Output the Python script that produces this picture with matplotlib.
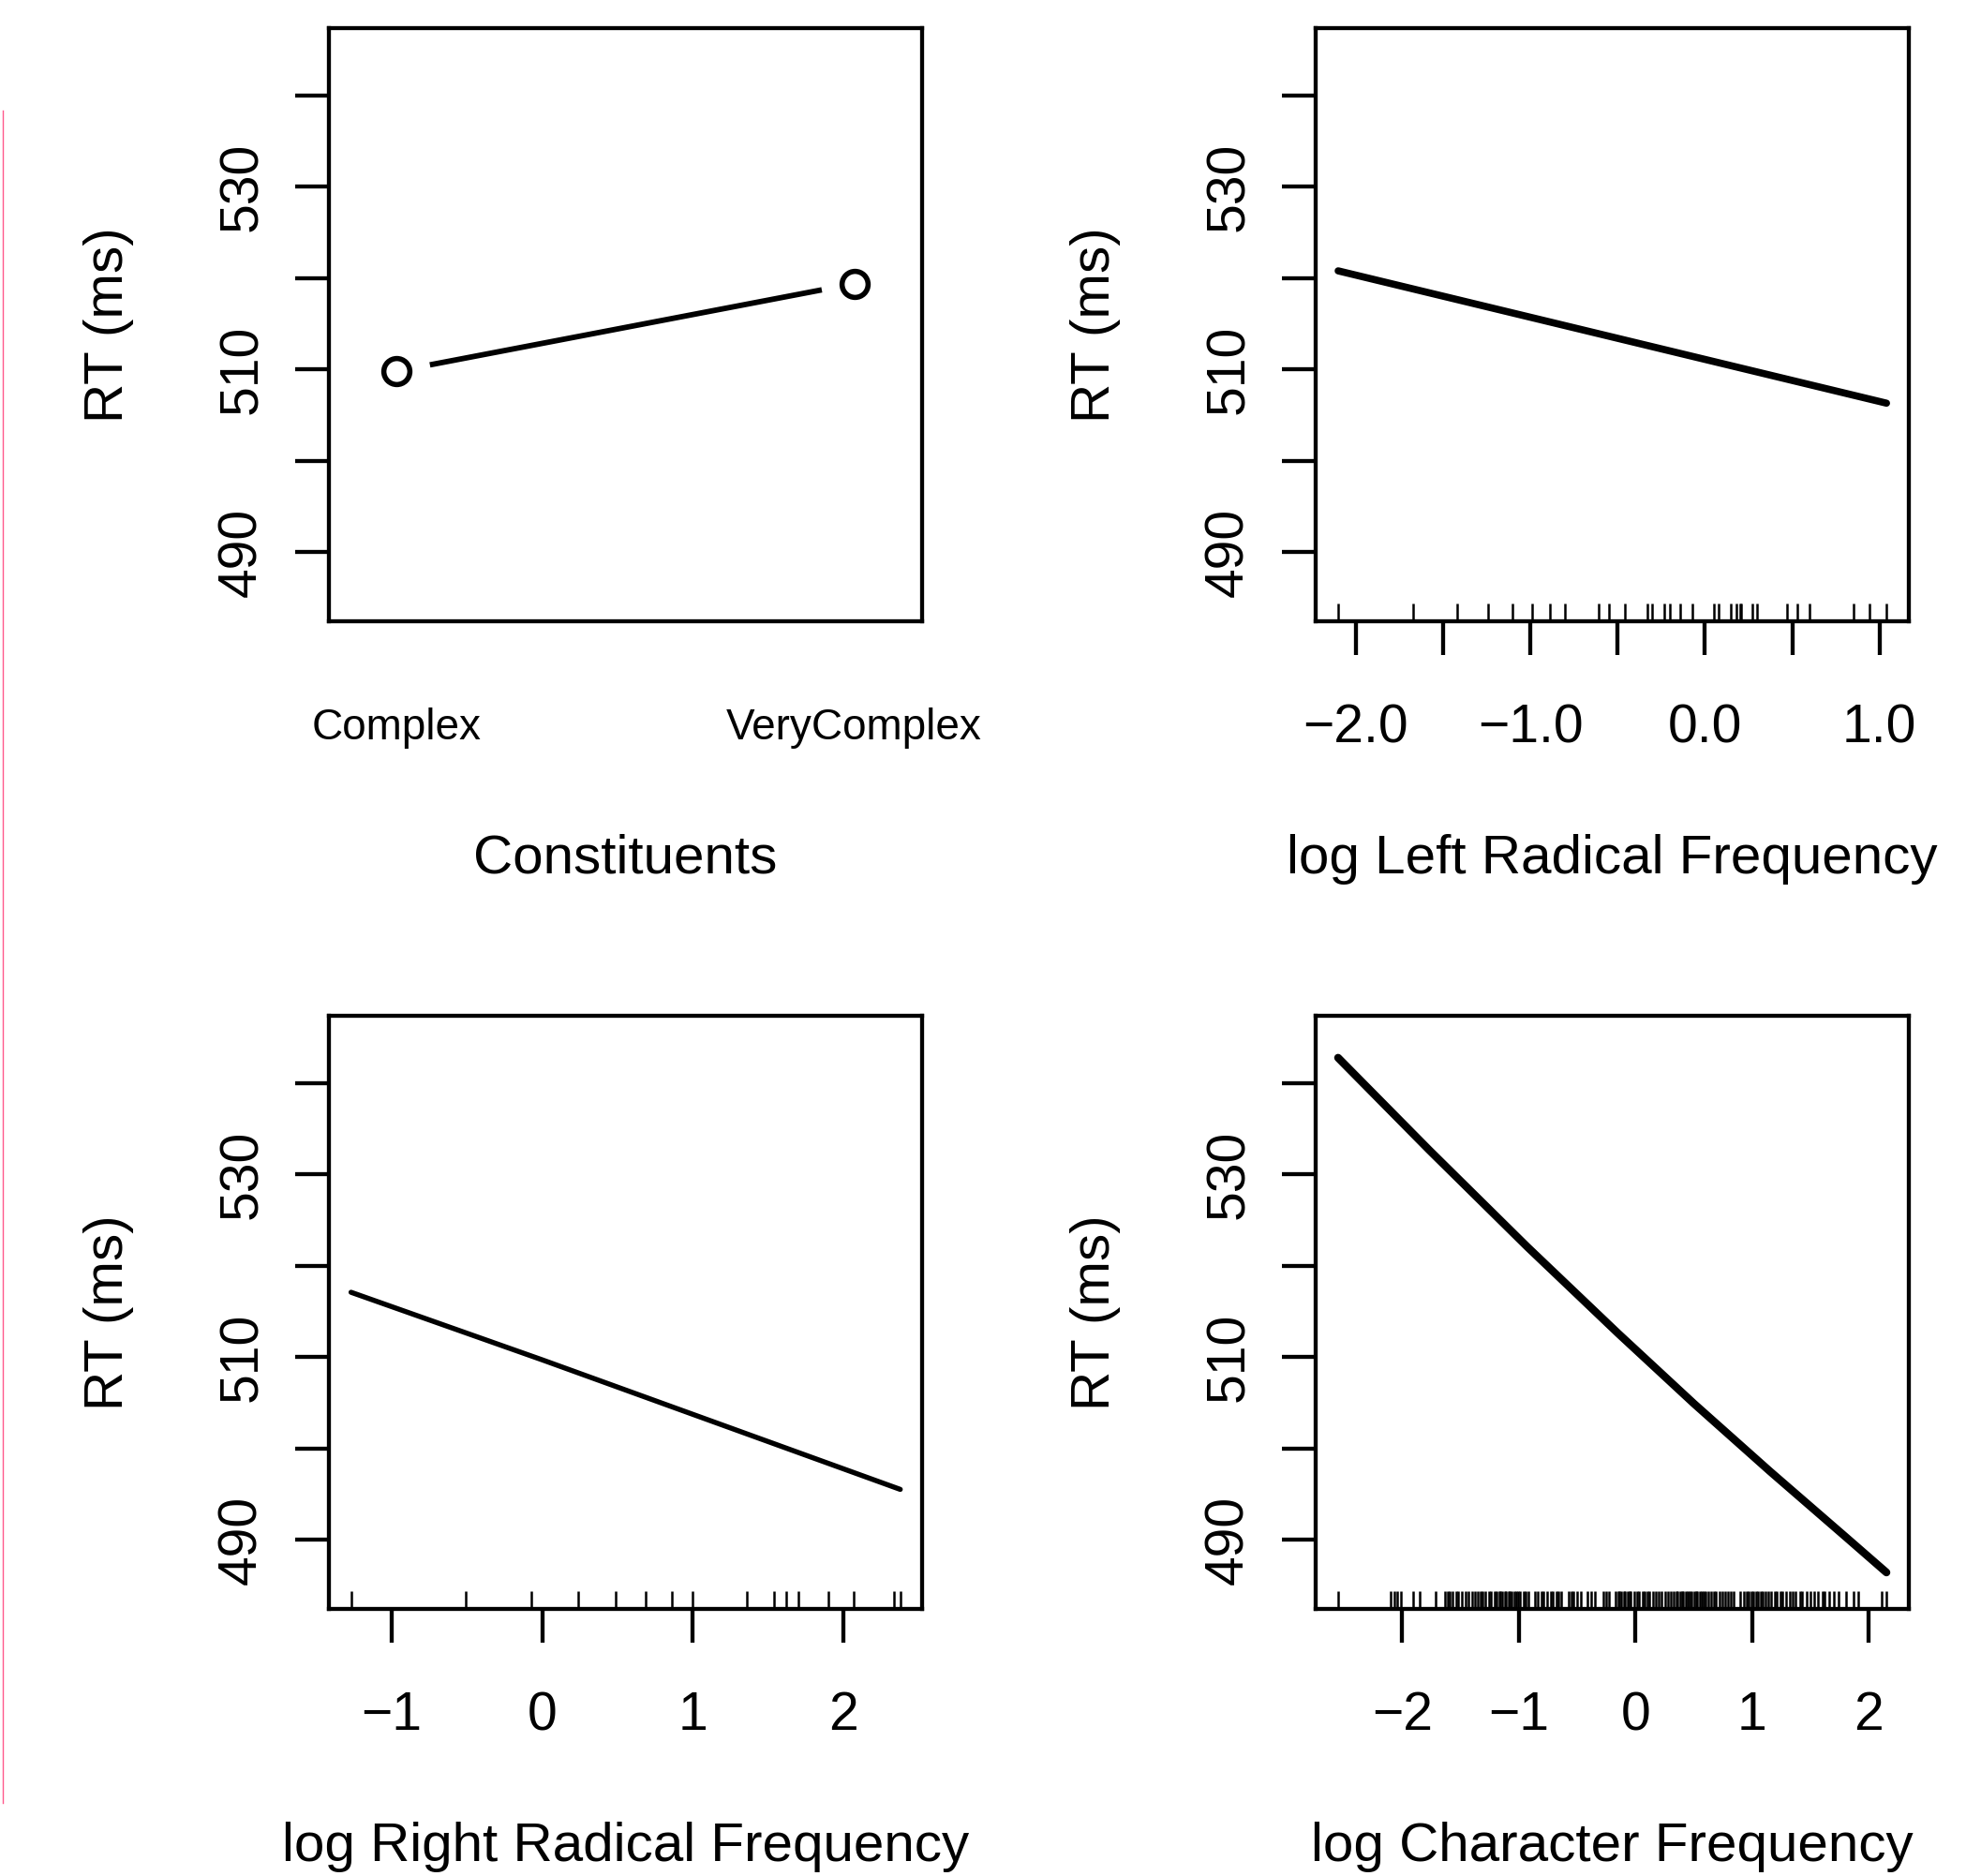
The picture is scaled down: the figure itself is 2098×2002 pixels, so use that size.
import matplotlib.pyplot as plt
from matplotlib.lines import Line2D

# Partial effects on RT (ms)
constituent_levels = ["Complex", "VeryComplex"]
constituent_rt = [509.8, 519.4]

left_freq = [-2.10, 0.0, 1.04]
left_freq_rt = [520.8, 511.1, 506.3]
left_freq_rug = [-2.10, -1.67, -1.42, -1.24, -1.10, -0.99, -0.89, -0.80, -0.61, -0.55,
	-0.46, -0.33, -0.30, -0.23, -0.20, -0.14, -0.07, 0.05, 0.08, 0.15, 0.18, 0.20, 0.21,
	0.27, 0.30, 0.47, 0.53, 0.60, 0.85, 0.94, 1.04]

right_freq = [-1.27, 0.0, 2.38]
right_freq_rt = [517.1, 509.7, 495.5]
right_freq_rug = [-1.27, -0.51, -0.07, 0.24, 0.49, 0.69, 0.86, 1.00, 1.36, 1.54, 1.62,
	1.70, 1.90, 2.07, 2.34, 2.38]

char_freq = [-2.55, -1.77, -0.93, -0.15, 0.50, 1.15, 1.80, 2.15]
char_freq_rt = [542.8, 532.7, 522.1, 512.6, 504.9, 497.5, 490.3, 486.4]
char_freq_rug = [-2.55, -2.10, -2.07, -2.04, -2.01, -1.91, -1.85, -1.71, -1.63, -1.61,
	-1.59, -1.57, -1.54, -1.52, -1.49, -1.46, -1.43, -1.40, -1.38, -1.35, -1.33, -1.31,
	-1.29, -1.26, -1.24, -1.21, -1.19, -1.17, -1.16, -1.14, -1.12, -1.11, -1.09, -1.08,
	-1.06, -1.04, -1.02, -1.01, -0.99, -0.96, -0.94, -0.92, -0.86, -0.84, -0.81, -0.79,
	-0.76, -0.73, -0.71, -0.68, -0.66, -0.64, -0.57, -0.55, -0.53, -0.50, -0.47, -0.41,
	-0.38, -0.35, -0.28, -0.25, -0.23, -0.17, -0.15, -0.14, -0.12, -0.10, -0.09, -0.07,
	-0.05, -0.04, -0.01, 0.01, 0.03, 0.06, 0.08, 0.10, 0.12, 0.15, 0.17, 0.20, 0.22, 0.25,
	0.28, 0.30, 0.33, 0.35, 0.36, 0.38, 0.40, 0.41, 0.43, 0.45, 0.46, 0.48, 0.50, 0.52,
	0.53, 0.55, 0.57, 0.58, 0.60, 0.62, 0.65, 0.67, 0.69, 0.72, 0.74, 0.77, 0.79, 0.82,
	0.84, 0.90, 0.93, 0.95, 0.97, 0.99, 1.01, 1.03, 1.05, 1.07, 1.09, 1.11, 1.14, 1.16,
	1.19, 1.21, 1.24, 1.26, 1.29, 1.32, 1.35, 1.37, 1.41, 1.43, 1.47, 1.50, 1.53, 1.56,
	1.60, 1.62, 1.66, 1.70, 1.74, 1.80, 1.87, 1.91, 2.11, 2.15]

rt_ticks = [490, 500, 510, 520, 530, 540]
rt_labels = ["490", "", "510", "", "530", ""]
rt_limits = (482.4, 547.4)


def style_axes(ax, xlim, xlabel):
	ax.set_xlim(*xlim)
	ax.set_ylim(*rt_limits)
	for spine in ax.spines.values():
		spine.set_linewidth(3.1)
	ax.tick_params(width=3.1, length=26, labelsize=41, direction='out')
	ax.tick_params(axis='y', pad=21)
	ax.tick_params(axis='x', pad=37)
	ax.set_yticks(rt_ticks, rt_labels, rotation=90, va='center')
	ax.set_ylabel("RT (ms)", fontsize=42)
	ax.yaxis.set_label_coords(-0.3286, 0.5)
	ax.set_xlabel(xlabel, fontsize=42)
	ax.xaxis.set_label_coords(0.5, -0.3586)


def rug(ax, values):
	ax.vlines(values, 0, 0.03, transform=ax.get_xaxis_transform(), colors='black', linewidth=1.8)


def main():
	plt.rcParams['font.family'] = ['Liberation Sans', 'DejaVu Sans']

	fig = plt.figure(figsize=(20.98, 20.02), dpi=100)
	left_col, right_col = 351 / 2098, 1404 / 2098
	top_row, bottom_row = 1 - 663 / 2002, 1 - 1717 / 2002
	w, h = 633 / 2098, 633 / 2002

	# Constituents (factor)
	ax1 = fig.add_axes([left_col, top_row, w, h])
	pos = [1, 2]
	ax1.plot(pos, constituent_rt, color='black', linewidth=4.2, solid_capstyle='round', zorder=1)
	ax1.plot(pos, constituent_rt, 'o', markersize=52, markerfacecolor='white', markeredgecolor='none', zorder=2)
	ax1.plot(pos, constituent_rt, 'o', markersize=20, markerfacecolor='none', markeredgecolor='black',
		markeredgewidth=4, zorder=3)
	style_axes(ax1, (0.852, 2.148), "Constituents")
	ax1.set_xticks(pos, constituent_levels)
	ax1.tick_params(axis='x', length=0, pad=66, labelsize=33)

	# log Left Radical Frequency
	ax2 = fig.add_axes([right_col, top_row, w, h])
	ax2.plot(left_freq, left_freq_rt, color='black', linewidth=5.5, solid_capstyle='round')
	rug(ax2, left_freq_rug)
	style_axes(ax2, (-2.229, 1.168), "log Left Radical Frequency")
	ax2.set_xticks([-2.0, -1.5, -1.0, -0.5, 0.0, 0.5, 1.0],
		["\u22122.0", "", "\u22121.0", "", "0.0", "", "1.0"])

	# log Right Radical Frequency
	ax3 = fig.add_axes([left_col, bottom_row, w, h])
	ax3.plot(right_freq, right_freq_rt, color='black', linewidth=3.9, solid_capstyle='round')
	rug(ax3, right_freq_rug)
	style_axes(ax3, (-1.417, 2.525), "log Right Radical Frequency")
	ax3.set_xticks([-1, 0, 1, 2], ["\u22121", "0", "1", "2"])

	# log Character Frequency
	ax4 = fig.add_axes([right_col, bottom_row, w, h])
	ax4.plot(char_freq, char_freq_rt, color='black', linewidth=6.0, solid_capstyle='round',
		solid_joinstyle='round')
	rug(ax4, char_freq_rug)
	style_axes(ax4, (-2.742, 2.342), "log Character Frequency")
	ax4.set_xticks([-2, -1, 0, 1, 2], ["\u22122", "\u22121", "0", "1", "2"])

	# thin pink margin line at the left edge
	fig.add_artist(Line2D([2.7 / 2098] * 2, [1 - 118 / 2002, 1 - 1924 / 2002],
		transform=fig.transFigure, color='#ff5a8c', linewidth=1.0))

	fig.savefig("out.png", dpi=100)


if __name__ == "__main__":
	main()
